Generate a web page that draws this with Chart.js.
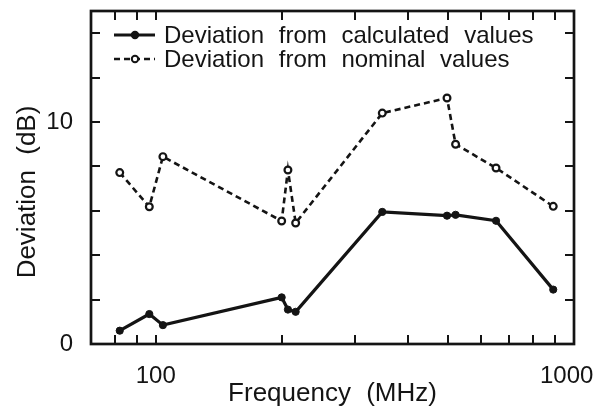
<!DOCTYPE html>
<html>
<head>
<meta charset="utf-8">
<script src="https://cdn.jsdelivr.net/npm/chart.js@4.4.1/dist/chart.umd.min.js"></script>
<style>
  html, body { margin: 0; padding: 0; background: #fff; }
</style>
</head>
<body>
<canvas id="grafico" width="601" height="410"></canvas>
<script>
// ======= Data =======
const frequencies = [82, 96.5, 104, 200, 207, 216, 348, 497, 521, 651, 892];
const calculatedDev = [0.6, 1.35, 0.85, 2.1, 1.55, 1.45, 5.95, 5.78, 5.82, 5.55, 2.45];
const nominalDev = [7.72, 6.18, 8.44, 5.54, 7.84, 5.45, 10.4, 11.08, 9.0, 7.93, 6.2];

const xLabelTicks = [100, 1000];
const xMarkTicks = [80, 90, 100, 200, 300, 400, 500, 600, 700, 800, 900];
const yLabelTicks = [0, 10];
const yMarkTicks = [2, 4, 6, 8, 10, 12, 14];

const seriesNames = ["Deviation from calculated values", "Deviation from nominal values"];

// ======= Style =======
const INK = "#141414";
const FONT = "'Liberation Sans', Arial, Helvetica, sans-serif";
const DASH = [6, 4];

Chart.defaults.font.family = FONT;
Chart.defaults.color = INK;

// frame, inward ticks, legend and y title
const framePlugin = {
  id: "frame",
  beforeDraw(chart) {
    chart.ctx.wordSpacing = "8px";
  },
  beforeDatasetsDraw(chart) {
    const { ctx, chartArea: a, scales: { x, y } } = chart;
    ctx.save();
    ctx.strokeStyle = INK;
    ctx.lineWidth = 2;
    ctx.beginPath();
    xMarkTicks.forEach(v => {
      const px = Math.round(x.getPixelForValue(v));
      ctx.moveTo(px, a.bottom); ctx.lineTo(px, a.bottom - 9);
      ctx.moveTo(px, a.top); ctx.lineTo(px, a.top + 9);
    });
    yMarkTicks.forEach(v => {
      const py = Math.round(y.getPixelForValue(v));
      ctx.moveTo(a.left, py); ctx.lineTo(a.left + 9, py);
      ctx.moveTo(a.right, py); ctx.lineTo(a.right - 9, py);
    });
    ctx.stroke();
    ctx.lineWidth = 2.7;
    ctx.strokeRect(a.left, a.top, a.right - a.left, a.bottom - a.top);
    ctx.restore();
  },
  afterDraw(chart) {
    const { ctx } = chart;
    ctx.save();
    ctx.fillStyle = INK;
    ctx.strokeStyle = INK;

    // legend
    const rows = [
      { y: 35, dash: [], width: 3, fill: INK },
      { y: 59, dash: DASH, width: 2.5, fill: "#fff" }
    ];
    ctx.font = "24px " + FONT;
    ctx.textAlign = "left";
    ctx.textBaseline = "middle";
    rows.forEach((r, i) => {
      ctx.setLineDash(r.dash);
      ctx.lineWidth = r.width;
      ctx.beginPath();
      ctx.moveTo(114, r.y); ctx.lineTo(155, r.y);
      ctx.stroke();
      ctx.setLineDash([]);
      ctx.lineWidth = 2;
      ctx.beginPath();
      ctx.arc(135, r.y, 3.2, 0, Math.PI * 2);
      ctx.fillStyle = r.fill;
      ctx.fill();
      ctx.stroke();
      ctx.fillStyle = INK;
      ctx.fillText(seriesNames[i], 164, r.y + 1);
    });

    // y title
    ctx.font = "26px " + FONT;
    ctx.textAlign = "center";
    ctx.textBaseline = "alphabetic";
    ctx.translate(35, 192);
    ctx.rotate(-Math.PI / 2);
    ctx.fillText("Deviation (dB)", 0, 0);
    ctx.restore();
  }
};

// ======= Chart =======
const ctx = document.getElementById("grafico").getContext("2d");
new Chart(ctx, {
  type: "line",
  data: {
    datasets: [
      {
        label: seriesNames[0],
        data: frequencies.map((f, i) => ({ x: f, y: calculatedDev[i] })),
        borderColor: INK,
        borderWidth: 3.2,
        pointRadius: 3.6,
        pointBackgroundColor: INK,
        pointBorderColor: INK,
        pointBorderWidth: 1,
        tension: 0
      },
      {
        label: seriesNames[1],
        data: frequencies.map((f, i) => ({ x: f, y: nominalDev[i] })),
        borderColor: INK,
        borderWidth: 2.6,
        borderDash: DASH,
        pointRadius: 3.4,
        pointBackgroundColor: "#fff",
        pointBorderColor: INK,
        pointBorderWidth: 2.2,
        tension: 0
      }
    ]
  },
  options: {
    responsive: false,
    animation: false,
    layout: { padding: { top: 11, right: 27, left: 0, bottom: 0 } },
    plugins: { legend: { display: false }, tooltip: { enabled: false } },
    scales: {
      x: {
        type: "logarithmic",
        min: 70,
        max: 1000,
        grid: { display: false },
        border: { display: false },
        afterBuildTicks: s => { s.ticks = xLabelTicks.map(v => ({ value: v })); },
        afterFit: s => { s.height = 66; s.paddingLeft = 0; s.paddingRight = 0; },
        ticks: {
          autoSkip: false,
          maxRotation: 0,
          padding: 10,
          font: { size: 24 },
          callback: v => (v === 1000 ? "1000 " : String(v))
        },
        title: {
          display: true,
          text: "Frequency (MHz)",
          font: { size: 26 },
          padding: { top: 0, bottom: 1 }
        }
      },
      y: {
        min: 0,
        max: 15,
        grid: { display: false },
        border: { display: false },
        afterBuildTicks: s => { s.ticks = yLabelTicks.map(v => ({ value: v })); },
        afterFit: s => { s.width = 91; s.paddingTop = 0; s.paddingBottom = 0; },
        ticks: {
          padding: 10,
          font: { size: 24 },
          callback: v => String(v)
        }
      }
    }
  },
  plugins: [framePlugin]
});
</script>
</body>
</html>
